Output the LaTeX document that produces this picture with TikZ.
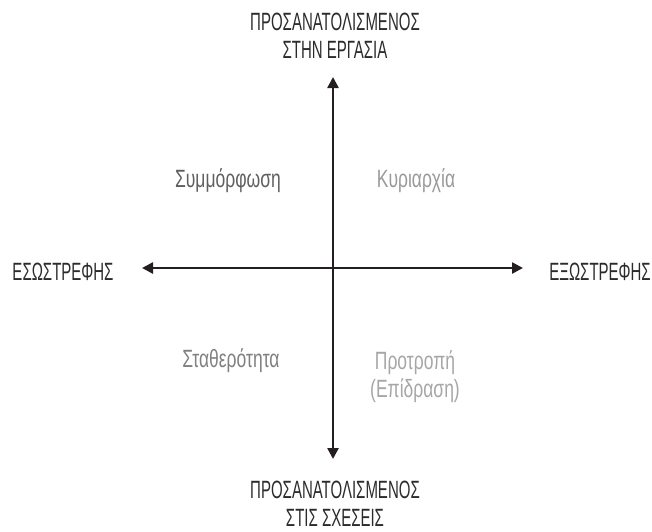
\documentclass[tikz,border=0pt]{standalone}
\usepackage{fontspec}
\setmainfont{Liberation Sans}
\newfontfamily\capsfont[FakeStretch=0.6]{Liberation Sans}
\newfontfamily\lowfont[FakeStretch=0.7]{Liberation Sans}
\usetikzlibrary{arrows.meta}
\definecolor{axiscol}{HTML}{231F20}
\definecolor{headcol}{HTML}{2B2B2B}
\definecolor{qdark}{HTML}{5F5F5F}
\definecolor{qmid}{HTML}{808080}
\definecolor{qlight}{HTML}{999999}
\definecolor{qlighter}{HTML}{A6A6A6}
\begin{document}
\begin{tikzpicture}[x=1pt,y=-1pt,
  axislabel/.style={font=\capsfont\fontsize{25}{28}\selectfont, text=headcol, inner sep=0pt, align=center},
  quadlabel/.style={font=\lowfont\fontsize{25}{28.5}\selectfont, inner sep=0pt, align=center},
  axisline/.style={draw=axiscol, line width=2.5pt, arrows={Triangle[length=11pt,width=11pt]-Triangle[length=11pt,width=11pt]}}]
\useasboundingbox (0,0) rectangle (652,531);
\coordinate (ytop) at (333,77);
\coordinate (ybot) at (333,459);
\coordinate (xleft) at (142,268);
\coordinate (xright) at (523,268);
\draw[axisline] (ytop) -- (ybot);
\draw[axisline] (xleft) -- (xright);
\node[axislabel, anchor=north] (toplab) at (335,13) {ΠΡΟΣΑΝΑΤΟΛΙΣΜΕΝΟΣ\\ΣΤΗΝ ΕΡΓΑΣΙΑ};
\node[axislabel, anchor=north] (botlab) at (335,481) {ΠΡΟΣΑΝΑΤΟΛΙΣΜΕΝΟΣ\\ΣΤΙΣ ΣΧΕΣΕΙΣ};
\node[axislabel, anchor=base] (leftlab) at (63,280) {ΕΣΩΣΤΡΕΦΗΣ};
\node[axislabel, anchor=base] (rightlab) at (600,280) {ΕΞΩΣΤΡΕΦΗΣ};
\node[quadlabel, text=qdark, anchor=base] (compliance) at (228,187) {Συμμόρφωση};
\node[quadlabel, text=qlight, anchor=base] (dominance) at (416,187) {Κυριαρχία};
\node[quadlabel, text=qmid, anchor=base] (steadiness) at (231,367) {Σταθερότητα};
\node[quadlabel, text=qlighter, anchor=north] (influence) at (415,350) {Προτροπή\\(Επίδραση)};
\end{tikzpicture}
\end{document}
